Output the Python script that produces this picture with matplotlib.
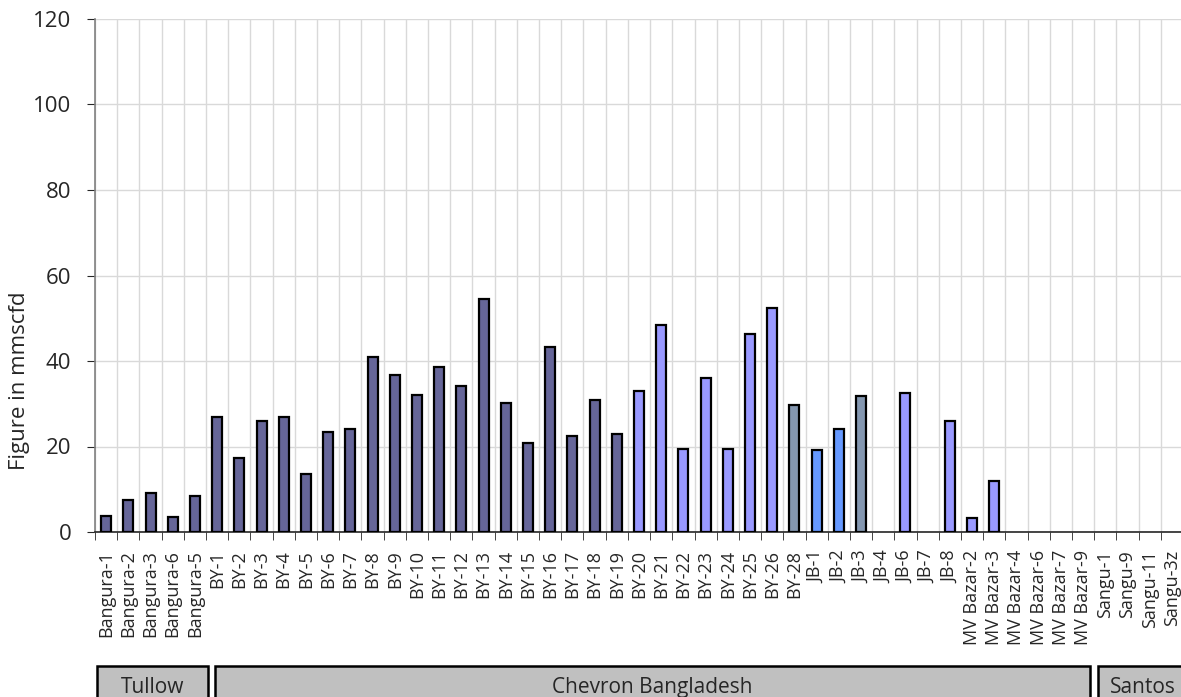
import numpy as np
import matplotlib.pyplot as plt
from matplotlib.patches import Rectangle
import matplotlib.transforms as mtransforms

plt.rcParams['font.family'] = ['Open Sans', 'DejaVu Sans']

# well names, in chart order
wells = ['Bangura-1', 'Bangura-2', 'Bangura-3', 'Bangura-6', 'Bangura-5',
         'BY-1', 'BY-2', 'BY-3', 'BY-4', 'BY-5', 'BY-6', 'BY-7', 'BY-8', 'BY-9',
         'BY-10', 'BY-11', 'BY-12', 'BY-13', 'BY-14', 'BY-15', 'BY-16', 'BY-17',
         'BY-18', 'BY-19', 'BY-20', 'BY-21', 'BY-22', 'BY-23', 'BY-24', 'BY-25',
         'BY-26', 'BY-28', 'JB-1', 'JB-2', 'JB-3', 'JB-4', 'JB-6', 'JB-7', 'JB-8',
         'MV Bazar-2', 'MV Bazar-3', 'MV Bazar-4', 'MV Bazar-6', 'MV Bazar-7',
         'MV Bazar-9', 'Sangu-1', 'Sangu-9', 'Sangu-11', 'Sangu-3z']

# production, mmscfd
production = [3.8, 7.6, 9.2, 3.4, 8.5,
              27.0, 17.3, 26.0, 27.0, 13.6, 23.4, 24.0, 41.0, 36.8,
              32.0, 38.6, 34.2, 54.6, 30.2, 20.9, 43.2, 22.4,
              30.8, 22.9, 32.9, 48.4, 19.4, 36.1, 19.5, 46.4,
              52.5, 29.7, 19.1, 24.1, 31.9, 0, 32.4, 0, 25.9,
              3.2, 11.9, 0, 0, 0,
              0, 0, 0, 0, 0]

# colour group of each bar
bar_group = (['a'] * 24 + ['b'] * 7 + ['c'] + ['d'] * 2 + ['c'] + ['b'] * 14)
group_colors = {'a': '#666699', 'b': '#9999FF', 'c': '#8497B0', 'd': '#6699FF'}

# operators and the span of wells under each box
operators = ['Tullow', 'Chevron Bangladesh', 'Santos']
operator_span = [(-0.42, 4.58), (4.9, 44.3), (44.65, 48.7)]

fig = plt.figure(figsize=(11.81, 6.97), dpi=100)
ax = fig.add_axes([95 / 1181, 165 / 697, 1088 / 1181, 513 / 697])

x = np.arange(len(wells))
vals = np.array(production, dtype=float)
colors = np.array([group_colors[g] for g in bar_group])
has = vals > 0  # Excel draws nothing for empty wells
ax.bar(x[has], vals[has], width=0.45, color=colors[has],
       edgecolor='black', linewidth=1.6, zorder=3)

txt = '#262626'
ax.set_xlim(-0.5, len(wells) - 0.5)
ax.set_ylim(0, 120)
ax.set_yticks(np.arange(0, 121, 20))
ax.set_xticks(x)
ax.set_xticklabels(wells, rotation=90, fontsize=13, color=txt)
ax.tick_params(axis='x', length=0, pad=13)
ax.set_xticks(np.arange(-0.5, len(wells), 1), minor=True)
ax.tick_params(axis='x', which='minor', length=6, direction='out', color=txt)
ax.tick_params(axis='y', length=6, direction='out', labelsize=16, color=txt,
               labelcolor=txt, pad=11)
ax.grid(True, which='minor', axis='x', color='#D9D9D9', linewidth=1, zorder=0)
ax.grid(True, which='major', axis='y', color='#D9D9D9', linewidth=1, zorder=0)
ax.set_axisbelow(True)

for side in ['top', 'right']:
    ax.spines[side].set_visible(False)
ax.spines['left'].set_color('#808080')
ax.spines['left'].set_linewidth(1.2)
ax.spines['bottom'].set_color(txt)
ax.spines['bottom'].set_linewidth(1.2)

ax.set_ylabel('Figure in mmscfd', fontsize=16, color=txt)
ax.yaxis.set_label_coords(-0.060, 0.294)

# operator boxes under the labels
trans = mtransforms.blended_transform_factory(ax.transData, ax.transAxes)
box_top = -0.262
box_h = 0.08
for name, (x0, x1) in zip(operators, operator_span):
    ax.add_patch(Rectangle((x0, box_top - box_h), x1 - x0, box_h, transform=trans,
                           facecolor='#C0C0C0', edgecolor='black', linewidth=1.8,
                           clip_on=False))
    ax.text((x0 + x1) / 2, box_top - 0.042, name, transform=trans, ha='center',
            va='center', fontsize=15, color=txt)

fig.savefig('out.png', dpi=100)
